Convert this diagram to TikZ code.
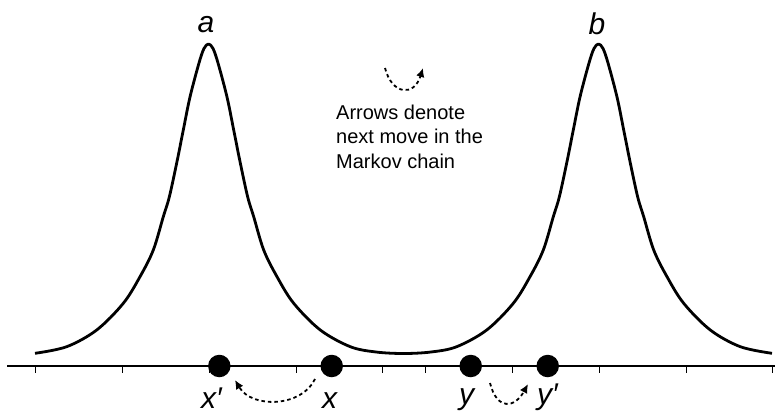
\documentclass[tikz,border=0pt]{standalone}
\usepackage{fontspec}
\setmainfont{Liberation Sans}
\usetikzlibrary{arrows.meta}

\begin{document}
\begin{tikzpicture}[
  x=1pt, y=1pt,
  curve/.style={line width=2.8pt, line join=round},
  axisline/.style={line width=2pt},
  axtick/.style={line width=0.9pt},
  dot/.style={circle, fill=black, inner sep=0pt, minimum size=22.5pt},
  lbl/.style={font=\fontsize{30}{30}\selectfont\itshape, inner sep=0pt},
  mv/.style={-{Latex[length=9pt,width=8.5pt]}, line width=1.8pt, dash pattern=on 3.5pt off 3pt},
  note/.style={font=\fontsize{20}{24.3}\selectfont, align=left, inner sep=0pt}
]
\useasboundingbox (0,0) rectangle (778,413);

% ---- axis
\coordinate (ax0) at (7,47);
\coordinate (ax1) at (775,47);
\draw[axisline] (ax0) -- (ax1);
\foreach \t in {35,122,209,296,382,425,512,599,686,772}{\draw[axtick] (\t,47) -- (\t,40.5);}

% ---- density with two modes
\draw[curve] plot[smooth, tension=0.55] coordinates {
  (35,59.7) (66.7,66.3) (96.7,83) (123.3,109.7) (140,136.3) (153.3,163)
  (163.3,196.3) (169.3,216) (176.7,250) (183.3,283) (190,316) (199,350)
  (204,364.5) (208.5,369)
  (213,364.5) (218,350) (227,316) (233.7,283) (240.3,250) (247.7,216)
  (253.7,196.3) (263.7,163) (277,136.3) (293.7,109.7) (320.3,83) (350.3,66.3)
  (376,61) (403.5,59.5)
  (431,61) (456.7,66.3) (486.7,83) (513.3,109.7) (530,136.3) (543.3,163)
  (553.3,196.3) (559.3,216) (566.7,250) (573.3,283) (580,316) (589,350)
  (594,364.5) (598.5,369)
  (603,364.5) (608,350) (617,316) (623.7,283) (630.3,250) (637.7,216)
  (643.7,196.3) (653.7,163) (667,136.3) (683.7,109.7) (710.3,83) (740.3,66.3)
  (772,59.7)};
\node[lbl, anchor=base] (la) at (206,380) {a};
\node[lbl, anchor=base] (lb) at (597,378) {b};

% ---- states on the axis
\node[dot] (xp) at (219.3,47) {};
\node[dot] (x)  at (331.7,47) {};
\node[dot] (y)  at (470.7,47) {};
\node[dot] (yp) at (547.7,47) {};
\node[lbl, anchor=base west] (lxp) at (201,5) {x′};
\node[lbl, anchor=base west] (lx)  at (322,5) {x};
\node[lbl, anchor=base west] (ly)  at (459,9) {y};
\node[lbl, anchor=base west] (lyp) at (537,9) {y′};

% ---- moves
\coordinate (xs) at (315,34);
\coordinate (xe) at (235,33);
\draw[mv] (xs) .. controls (302,6) and (252,4) .. (xe);
\coordinate (ys) at (490,30);
\coordinate (ye) at (528,29);
\draw[mv] (ys) .. controls (497,2) and (515,5) .. (ye);

% ---- legend
\coordinate (ks) at (385,345);
\coordinate (ke) at (423,345);
\draw[mv] (ks) .. controls (392,318) and (414,316) .. (ke);
\node[note, anchor=north west] (key) at (336,308) {Arrows denote\\next move in the\\Markov chain};
\end{tikzpicture}
\end{document}
